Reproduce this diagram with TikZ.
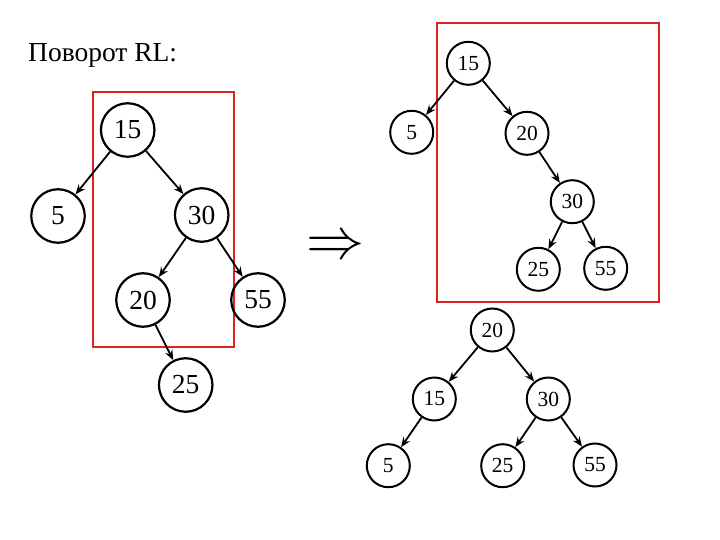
\documentclass[tikz,border=0pt]{standalone}
\usepackage{fontspec}
\setmainfont{Liberation Serif}
\usetikzlibrary{arrows.meta}
\begin{document}
\begin{tikzpicture}[x=1pt,y=-1pt,
  bignode/.style={circle,draw=black,line width=2.2pt,minimum size=53.5pt,inner sep=0pt,font=\fontsize{27.5}{27.5}\selectfont},
  smallnode/.style={circle,draw=black,line width=2pt,minimum size=43pt,inner sep=0pt,font=\fontsize{21.5}{21.5}\selectfont},
  edge/.style={draw=black,line width=1.8pt,-{Stealth[length=10pt,width=8pt,inset=3.5pt]}},
  redbox/.style={draw={rgb,255:red,220;green,35;blue,35},line width=1.8pt}]
\useasboundingbox (0,0) rectangle (720,540);
\node[anchor=base west,font=\fontsize{27.5}{27.5}\selectfont,inner sep=0pt] (title) at (28,62) {Поворот RL:};
% left tree
\draw[redbox] (92.7,91.7) rectangle (234.3,346.7);
\node[bignode] (a15) at (127.7,130) {15};
\node[bignode] (a5) at (58,216) {5};
\node[bignode] (a30) at (201.7,215) {30};
\node[bignode] (a20) at (143,300) {20};
\node[bignode] (a55) at (258,300) {55};
\node[bignode] (a25) at (185.7,385) {25};
\draw[edge] (a15) -- (a5);
\draw[edge] (a15) -- (a30);
\draw[edge] (a30) -- (a20);
\draw[edge] (a30) -- (a55);
\draw[edge] (a20) -- (a25);
% arrow
\node[inner sep=0pt] (imp) at (336,248) {\scalebox{2.8}{\fontsize{20}{20}\selectfont$\Rightarrow$}};
% top right tree
\draw[redbox] (437.3,23.3) rectangle (659,301.7);
\node[smallnode] (b15) at (468.3,63.3) {15};
\node[smallnode] (b5) at (411.7,132.3) {5};
\node[smallnode] (b20) at (527,133.3) {20};
\node[smallnode] (b30) at (572.3,201.7) {30};
\node[smallnode] (b25) at (538.3,269.3) {25};
\node[smallnode] (b55) at (605.7,268.3) {55};
\draw[edge] (b15) -- (b5);
\draw[edge] (b15) -- (b20);
\draw[edge] (b20) -- (b30);
\draw[edge] (b30) -- (b25);
\draw[edge] (b30) -- (b55);
% bottom tree
\node[smallnode] (c20) at (492.3,330) {20};
\node[smallnode] (c15) at (434.3,399) {15};
\node[smallnode] (c30) at (548.3,399) {30};
\node[smallnode] (c5) at (388.3,465.7) {5};
\node[smallnode] (c25) at (502.7,465.7) {25};
\node[smallnode] (c55) at (595,465) {55};
\draw[edge] (c20) -- (c15);
\draw[edge] (c20) -- (c30);
\draw[edge] (c15) -- (c5);
\draw[edge] (c30) -- (c25);
\draw[edge] (c30) -- (c55);
\end{tikzpicture}
\end{document}
